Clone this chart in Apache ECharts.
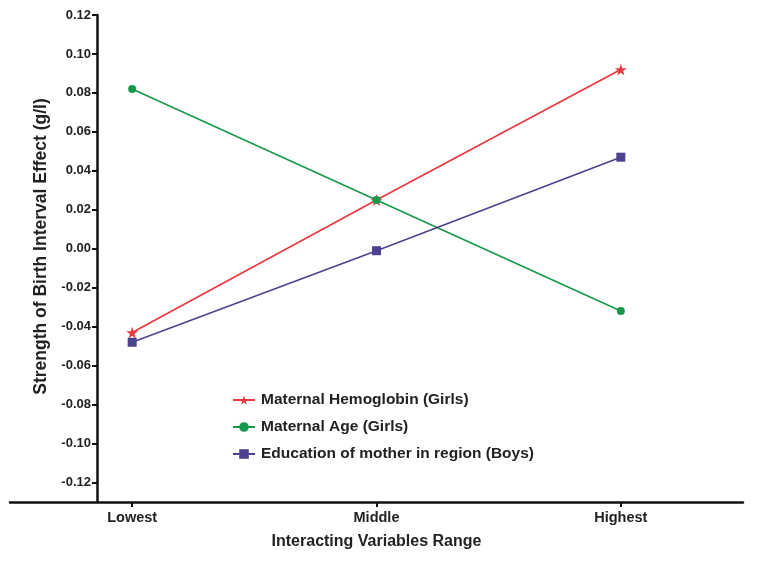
<!DOCTYPE html>
<html><head><meta charset="utf-8">
<script src="https://cdn.jsdelivr.net/npm/echarts@6/dist/echarts.min.js"></script>
<style>html,body{margin:0;padding:0;background:#fff}#c{width:770px;height:562px}</style>
</head><body><div id="c"></div>
<script>
const categories = ['Lowest', 'Middle', 'Highest'];
const hemoglobinGirls = [-0.043, 0.025, 0.092];
const ageGirls = [0.082, 0.025, -0.032];
const educationBoys = [-0.048, -0.001, 0.047];
const yTicks = [-0.12, -0.10, -0.08, -0.06, -0.04, -0.02, 0.00, 0.02, 0.04, 0.06, 0.08, 0.10, 0.12];

const star = 'path://M50,0 L61,35 L98,35 L68,57 L79,91 L50,70 L21,91 L32,57 L2,35 L39,35 Z';
const font = 'Arial, "Liberation Sans", sans-serif';

const chart = echarts.init(document.getElementById('c'));
chart.setOption({
  animation: false,
  backgroundColor: '#fff',
  grid: { left: 10, right: 27, top: 15, bottom: 60 },
  legend: {
    orient: 'vertical', left: 227, top: 387, itemGap: 11, itemWidth: 22, itemHeight: 12,
    textStyle: { fontFamily: font, fontWeight: 'bold', fontSize: 15.5, color: '#222', padding: [0, 0, 0, 1] },
    data: ['Maternal Hemoglobin (Girls)', 'Maternal Age (Girls)', 'Education of mother in region (Boys)']
  },
  xAxis: {
    type: 'category', data: categories, boundaryGap: true,
    name: 'Interacting Variables Range', nameLocation: 'middle', nameGap: 32,
    nameTextStyle: { fontFamily: font, fontWeight: 'bold', fontSize: 16, color: '#222' },
    axisLine: { onZero: false, lineStyle: { color: '#111', width: 2.5 } },
    axisTick: { show: true, alignWithLabel: true, length: 5, lineStyle: { color: '#111', width: 2 } },
    axisLabel: { fontFamily: font, fontWeight: 'bold', fontSize: 14.5, color: '#222', margin: 8 },
    splitLine: { show: false }
  },
  yAxis: {
    type: 'value', min: -0.13, max: 0.12, offset: -87,
    name: 'Strength of Birth Interval Effect (g/l)', nameLocation: 'middle', nameGap: 43,
    nameRotate: 90,
    nameTextStyle: { fontFamily: font, fontWeight: 'bold', fontSize: 17.5, color: '#222', padding: [0, 0, 0, 24] },
    axisLine: { show: true, lineStyle: { color: '#111', width: 2.5 } },
    axisTick: { show: true, customValues: yTicks, length: 5, lineStyle: { color: '#111', width: 2 } },
    axisLabel: { customValues: yTicks, fontFamily: font, fontWeight: 'bold', fontSize: 13, color: '#222', margin: 6,
      formatter: v => v.toFixed(2) },
    splitLine: { show: false }
  },
  series: [
    { name: 'Maternal Hemoglobin (Girls)', type: 'line', data: hemoglobinGirls,
      symbol: star, symbolSize: 12, color: '#e8383d', lineStyle: { width: 1.6 } },
    { name: 'Maternal Age (Girls)', type: 'line', data: ageGirls,
      symbol: 'circle', symbolSize: 8, color: '#17994b', lineStyle: { width: 1.6 } },
    { name: 'Education of mother in region (Boys)', type: 'line', data: educationBoys,
      symbol: 'rect', symbolSize: 9, color: '#4c4290', lineStyle: { width: 1.6 } }
  ]
});
</script></body></html>
